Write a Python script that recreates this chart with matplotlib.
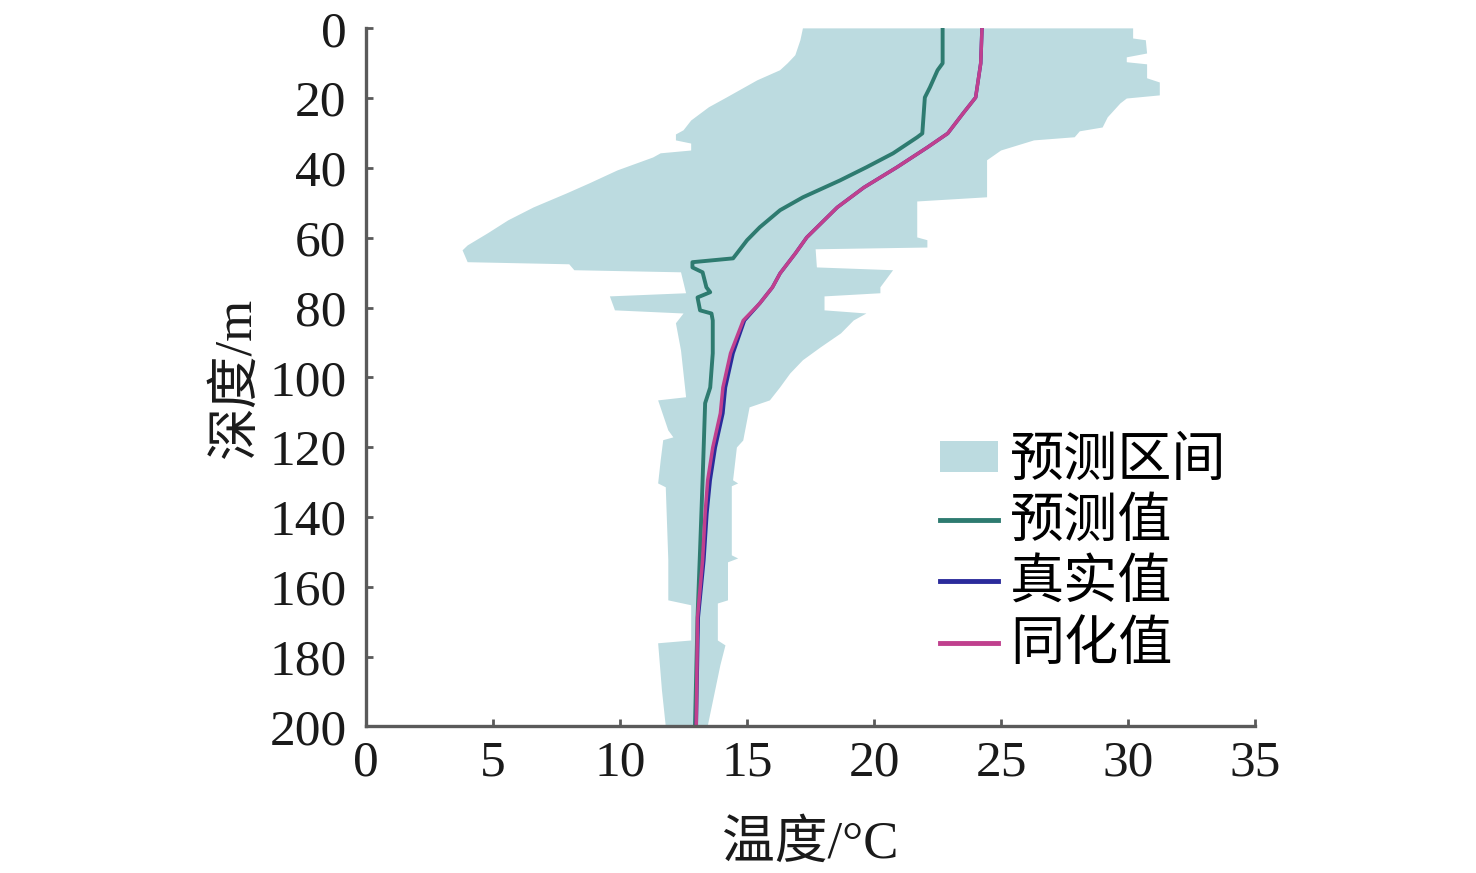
import matplotlib
matplotlib.use("Agg")
import matplotlib.pyplot as plt
from matplotlib.patches import Patch
from matplotlib.lines import Line2D

# ---------------------------------------------------------------------------
# Data (depth in m, temperature in °C)
# ---------------------------------------------------------------------------

# prediction interval, left (cold) edge
band_left_depth = [0, 3.4, 7.7, 10, 12, 14.9, 19.8, 22.6, 26.4, 29.2, 30.4, 32.1, 33, 35,
                   35.8, 37, 40.7, 44.4, 47.3, 51.3, 55, 58.7, 62.2, 63.6, 67, 67.6, 69.3,
                   69.9, 75.9, 76.8, 80.8, 81.7, 84.5, 92.3, 105.7, 106.6, 115.2, 117.2, 118,
                   123.8, 130.4, 131.5, 152.4, 163.9, 165.3, 175.4, 176.2, 189.7, 200]
band_left_temp = [17.2, 17.1, 16.9, 16.6, 16.3, 15.4, 14.2, 13.5, 12.8, 12.5, 12.2, 12.2, 12.8, 12.8,
                  11.6, 11.3, 9.9, 8.8, 7.9, 6.6, 5.6, 4.8, 4.0, 3.8, 4.0, 8.0, 8.2,
                  12.4, 12.6, 9.6, 9.8, 12.5, 12.2, 12.4, 12.6, 11.5, 11.9, 12.1, 11.7,
                  11.6, 11.5, 11.8, 11.9, 11.9, 12.8, 12.8, 11.5, 11.65, 11.8]

# prediction interval, right (warm) edge
band_right_depth = [0, 2.9, 3.4, 7.2, 8.3, 9.7, 10.3, 14.3, 15.5, 19.2, 20.1, 21.5, 25.5, 28.4,
                    29.5, 31.2, 32.1, 35, 37.8, 48.4, 49.6, 59.9, 60.7, 62.8, 63.3, 68.5, 69.3,
                    74.2, 75.9, 76.8, 80.8, 81.7, 83.7, 87.4, 91.4, 95.1, 98.9, 102.9, 106.6,
                    108.6, 118.1, 120.1, 129.5, 130.4, 131.2, 151, 151.9, 153, 163.9, 164.8,
                    175.4, 176.8, 182.5, 200]
band_right_temp = [30.2, 30.2, 30.7, 30.75, 29.95, 29.95, 30.75, 30.75, 31.25, 31.25, 29.95, 29.7, 29.2, 29.0,
                   28.1, 27.9, 26.3, 25.0, 24.45, 24.45, 21.7, 21.7, 22.1, 22.1, 17.7, 17.75, 20.75,
                   20.25, 20.25, 18.05, 18.05, 19.7, 19.2, 18.7, 17.9, 17.2, 16.7, 16.3, 15.9,
                   15.1, 14.85, 14.6, 14.45, 14.65, 14.4, 14.4, 14.65, 14.25, 14.25, 13.85,
                   13.85, 14.15, 13.95, 13.45]

# predicted profile
pred_depth = [0, 10, 12, 16.9, 19.8, 30.1, 31.2, 35.8, 39.8, 43.6, 48.4, 52.1, 57, 60.7, 64.5,
              65.9, 67, 68.5, 69.9, 74.2, 75.6, 77.1, 80.8, 81.7, 83.7, 93.1, 102.9, 107.4,
              129.5, 149.6, 168.8, 200]
pred_temp = [22.7, 22.7, 22.5, 22.2, 22.0, 21.9, 21.7, 20.75, 19.7, 18.65, 17.2, 16.3, 15.5, 15.0, 14.6,
             14.45, 12.85, 12.85, 13.25, 13.4, 13.55, 13.05, 13.15, 13.6, 13.65, 13.65, 13.55, 13.35,
             13.25, 13.15, 13.05, 12.95]

# assimilated profile
assim_depth = [0, 10, 19.8, 24.4, 30.1, 34.1, 39.8, 45.6, 51.3, 55.6, 59.9, 64.5, 70.2, 74.2,
               78.8, 83.7, 93.1, 102.9, 110.3, 120.1, 129.5, 139, 152.4, 168.8, 200]
assim_temp = [24.25, 24.2, 24.0, 23.5, 22.9, 22.1, 20.9, 19.6, 18.55, 17.95, 17.35, 16.9, 16.3, 16.0,
              15.5, 14.85, 14.35, 14.05, 13.95, 13.65, 13.45, 13.35, 13.25, 13.05, 13.0]

# true profile (hidden under the assimilated one except below ~85 m)
true_depth = [0, 10, 19.8, 24.4, 30.1, 34.1, 39.8, 45.6, 51.3, 55.6, 59.9, 64.5, 70.2, 74.2,
              78.8, 83.7, 93.1, 102.9, 110.3, 120.1, 129.5, 139, 152.4, 168.8, 200]
true_temp = [24.25, 24.2, 24.0, 23.5, 22.9, 22.1, 20.9, 19.6, 18.55, 17.95, 17.35, 16.9, 16.3, 16.0,
             15.5, 14.9, 14.45, 14.15, 14.05, 13.75, 13.55, 13.42, 13.3, 13.08, 13.0]

legend_labels = ["预测区间", "预测值", "真实值", "同化值"]

BAND_COLOR = "#bcdbe0"
PRED_COLOR = "#2e7b70"
TRUE_COLOR = "#2b2b9b"
ASSIM_COLOR = "#c0408e"
AXIS_COLOR = "#5a5a5a"
FONT = ["Liberation Serif", "Noto Sans CJK SC"]

plt.rcParams["font.family"] = FONT

fig = plt.figure(figsize=(14.76, 8.73), dpi=100)
ax = fig.add_axes([0.248, 0.168, 0.6023, 0.7995])

# band as one polygon: left edge down, right edge back up
ax.fill(band_left_temp + band_right_temp[::-1],
        band_left_depth + band_right_depth[::-1],
        color=BAND_COLOR, linewidth=0)

ax.plot(pred_temp, pred_depth, color=PRED_COLOR, linewidth=2.8)
ax.plot(true_temp, true_depth, color=TRUE_COLOR, linewidth=2.5)
ax.plot(assim_temp, assim_depth, color=ASSIM_COLOR, linewidth=2.5)

ax.set_xlim(0, 35)
ax.set_ylim(200, 0)
ax.set_xticks(range(0, 36, 5))
ax.set_yticks(range(0, 201, 20))

for side in ("top", "right"):
    ax.spines[side].set_visible(False)
for side in ("left", "bottom"):
    ax.spines[side].set_color(AXIS_COLOR)
    ax.spines[side].set_linewidth(2.4)

ax.tick_params(axis="both", direction="in", length=5, width=2, color=AXIS_COLOR,
               labelsize=37, labelcolor="#1a1a1a")
ax.tick_params(axis="y", pad=14)
ax.tick_params(axis="x", pad=10)

ax.set_xlabel("温度/°C", fontsize=38, labelpad=24, color="#1a1a1a")
ax.set_ylabel("深度/m", fontsize=38, labelpad=6, color="#1a1a1a")

handles = [
    Patch(facecolor=BAND_COLOR, edgecolor="none"),
    Line2D([], [], color=PRED_COLOR, linewidth=3.5),
    Line2D([], [], color=TRUE_COLOR, linewidth=3.5),
    Line2D([], [], color=ASSIM_COLOR, linewidth=3.5),
]
ax.legend(handles, legend_labels, loc="center left", bbox_to_anchor=(0.646, 0.246),
          frameon=False, fontsize=39, borderpad=0, borderaxespad=0,
          handlelength=1.07, handleheight=0.5, handletextpad=0.22, labelspacing=0.2)

fig.savefig("out.png", dpi=100)
plt.close(fig)
